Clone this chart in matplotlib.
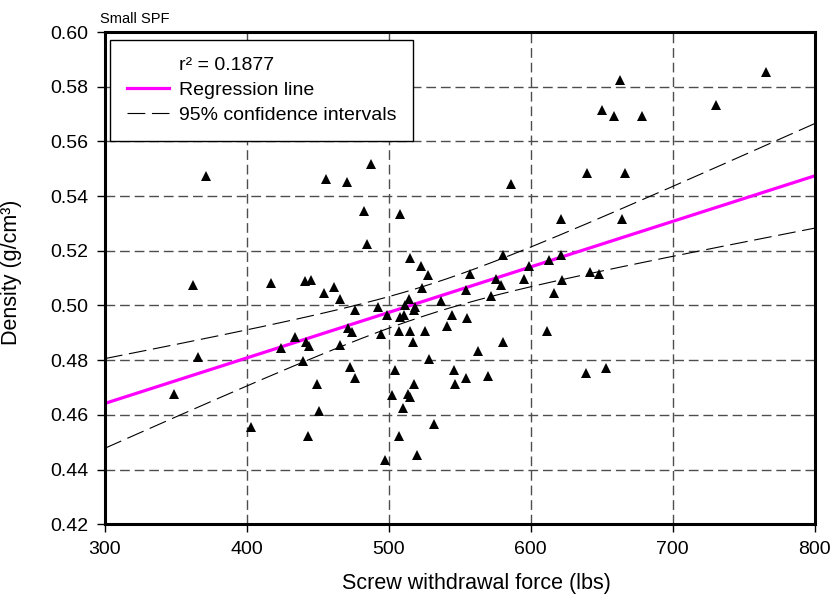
"""
Small SPF: density vs screw withdrawal force, with regression line
and 95% confidence band for the mean.
"""

import matplotlib
matplotlib.use('Agg')
import matplotlib.pyplot as plt
from matplotlib.lines import Line2D
import numpy as np

plt.rcParams['font.family'] = ['Liberation Sans', 'DejaVu Sans']

# %%
# Data

force = [765.5, 662.7, 730.8, 650.0, 658.8, 678.2, 487.1, 371.1, 455.6, 470.4,
         586.1, 639.6, 666.4, 482.4, 507.7, 621.6, 664.4, 484.3, 514.8, 522.5,
         527.3, 557.5, 580.5, 598.9, 613.0, 621.6, 641.5, 647.9, 523.6, 554.2,
         575.8, 578.7, 595.3, 622.2, 571.7, 616.4, 361.8, 416.9, 440.8, 445.1,
         454.2, 461.3, 465.7, 476.3, 492.7, 498.9, 508.1, 510.9, 514.4, 511.6,
         518.7, 517.8, 536.4, 544.7, 555.4, 541.3, 494.6, 507.3, 514.8, 525.6,
         516.7, 611.5, 580.1, 562.5, 528.5, 471.3, 473.9, 434.0, 441.5, 443.5,
         423.9, 465.5, 365.3, 439.4, 472.5, 476.3, 504.2, 545.8, 570.1, 554.1,
         546.7, 517.6, 639.2, 652.8, 449.5, 348.6, 501.9, 513.6, 514.8, 510.1,
         450.5, 531.9, 402.6, 443.2, 507.0, 519.5, 497.2]

density = [0.5855, 0.5825, 0.5733, 0.5715, 0.5693, 0.5693, 0.5516, 0.5475, 0.5463, 0.5453,
           0.5444, 0.5483, 0.5483, 0.5344, 0.5336, 0.5316, 0.5316, 0.5225, 0.5174, 0.5144,
           0.5113, 0.5116, 0.5185, 0.5144, 0.5165, 0.5185, 0.5124, 0.5115, 0.5064, 0.5055,
           0.5096, 0.5075, 0.5096, 0.5095, 0.5035, 0.5046, 0.5075, 0.5083, 0.5091, 0.5094,
           0.5045, 0.5066, 0.5025, 0.4985, 0.4995, 0.4965, 0.4957, 0.4967, 0.5022, 0.5002,
           0.4996, 0.4982, 0.5015, 0.4964, 0.4956, 0.4925, 0.4896, 0.4906, 0.4906, 0.4907,
           0.4865, 0.4907, 0.4865, 0.4835, 0.4804, 0.4916, 0.4904, 0.4885, 0.4867, 0.4853,
           0.4845, 0.4854, 0.4813, 0.4796, 0.4774, 0.4734, 0.4764, 0.4764, 0.4744, 0.4735,
           0.4714, 0.4714, 0.4754, 0.4773, 0.4713, 0.4675, 0.4673, 0.4675, 0.4664, 0.4624,
           0.4614, 0.4565, 0.4555, 0.4524, 0.4523, 0.4455, 0.4435]

r_squared = 0.1877

# regression line as drawn on the chart (density at 300 and 800 lbs)
line_ends_x = [300, 800]
line_ends_y = [0.4642, 0.5474]

# %%
# Regression and confidence band

x = np.asarray(force)
y = np.asarray(density)
n = len(x)

slope = (line_ends_y[1] - line_ends_y[0]) / (line_ends_x[1] - line_ends_x[0])
intercept = line_ends_y[0] - slope * line_ends_x[0]

resid = y - (slope * x + intercept)
s = np.sqrt(np.sum(resid ** 2) / (n - 2))
sxx = np.sum((x - x.mean()) ** 2)
t_crit = 1.985  # two-sided 95%, ~95 dof

xs = np.linspace(300, 800, 200)
fit = slope * xs + intercept
half = t_crit * s * np.sqrt(1.0 / n + (xs - x.mean()) ** 2 / sxx)

# %%
# Plot

fig = plt.figure(figsize=(8.33, 6.04), dpi=100)
axis = fig.add_axes([0.126, 0.132, 0.852, 0.815])

grid_kw = dict(color='#4d4d4d', linewidth=1.0, linestyle=(0, (7, 3.5)))
axis.grid(True, **grid_kw)
axis.set_axisbelow(True)

ci_style = (0, (16, 6))
axis.plot(xs, fit + half, color='black', linewidth=0.8, linestyle=ci_style)
axis.plot(xs, fit - half, color='black', linewidth=0.8, linestyle=ci_style)
axis.plot(xs, fit, color='#ff00ff', linewidth=2.3)

axis.plot(force, density, linestyle='none', marker='^', markersize=7.5,
          color='black', markeredgewidth=0)

axis.set_xlim(300, 800)
axis.set_ylim(0.42, 0.60)
axis.set_xticks(np.arange(300, 801, 100))
axis.set_yticks(np.arange(0.42, 0.601, 0.02))
axis.yaxis.set_major_formatter(plt.FormatStrFormatter('%.2f'))

axis.tick_params(direction='out', length=6, width=1, labelsize=14, pad=6)
for spine in axis.spines.values():
    spine.set_linewidth(2.2)

axis.set_xlabel('Screw withdrawal force (lbs)', fontsize=15.5)
axis.xaxis.set_label_coords(0.524, -0.098)
axis.set_ylabel('Density (g/cm³)', fontsize=15.5)
axis.yaxis.set_label_coords(-0.117, 0.512)
axis.text(-0.007, 1.012, 'Small SPF', transform=axis.transAxes,
          fontsize=10.5, ha='left', va='bottom')

handles = [Line2D([], [], color='none'),
           Line2D([], [], color='#ff00ff', linewidth=2.3),
           Line2D([], [], color='black', linewidth=0.8, linestyle=ci_style)]
labels = [f'r² = {r_squared}', 'Regression line', '95% confidence intervals']
leg = axis.legend(handles, labels, loc='upper left', bbox_to_anchor=(0.007, 0.984),
                  borderaxespad=0, fontsize=14, frameon=True, fancybox=False,
                  framealpha=1, edgecolor='black', handlelength=2.2,
                  handletextpad=0.5, labelspacing=0.38, borderpad=0.86)
leg.get_frame().set_linewidth(1.0)

fig.savefig('out.png', dpi=100)
